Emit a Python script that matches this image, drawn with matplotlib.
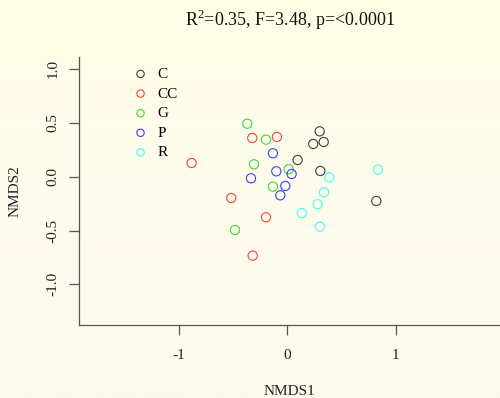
import matplotlib
matplotlib.use("Agg")
import matplotlib.pyplot as plt
import numpy as np
from matplotlib.colors import LinearSegmentedColormap

plt.rcParams['font.family'] = ['Liberation Serif', 'DejaVu Serif']
plt.rcParams['mathtext.fontset'] = 'custom'
plt.rcParams['mathtext.rm'] = 'Liberation Serif'

groups = ["C", "CC", "G", "P", "R"]
colors = ["black", "red", "#00cd00", "blue", "cyan"]

C_x = [0.298, 0.239, 0.335, 0.095, 0.304, 0.819]
C_y = [0.421, 0.304, 0.322, 0.155, 0.053, -0.226]
CC_x = [-0.880, -0.322, -0.095, -0.515, -0.196, -0.318]
CC_y = [0.127, 0.359, 0.369, -0.198, -0.377, -0.733]
G_x = [-0.368, -0.196, -0.306, 0.013, -0.132, -0.481]
G_y = [0.492, 0.344, 0.115, 0.069, -0.093, -0.495]
P_x = [-0.132, -0.101, 0.040, -0.334, -0.018, -0.064]
P_y = [0.217, 0.050, 0.025, -0.015, -0.086, -0.173]
R_x = [0.834, 0.386, 0.338, 0.280, 0.135, 0.301]
R_y = [0.065, -0.006, -0.145, -0.256, -0.337, -0.464]

xs = [C_x, CC_x, G_x, P_x, R_x]
ys = [C_y, CC_y, G_y, P_y, R_y]

title = r"R$^{\mathrm{2}}$=0.35, F=3.48, p=<0.0001"
xticks = [-1, 0, 1]
yticks = [-1.0, -0.5, 0.0, 0.5, 1.0]

bg = "#FDFBEC"
fig = plt.figure(figsize=(5, 3.98), dpi=100, facecolor=bg)

# vertical background gradient
bgax = fig.add_axes([0, 0, 1, 1], zorder=-10)
cmap = LinearSegmentedColormap.from_list("bg", ["#FCF9EF", "#FFFEE8"])
bgax.imshow(np.linspace(0, 1, 256).reshape(-1, 1), cmap=cmap, aspect='auto',
            origin='lower', extent=[0, 1, 0, 1])
bgax.axis('off')

ax = fig.add_axes([79/500, 1-325/398, 1-79/500, (325-57)/398])
ax.set_facecolor('none')

handles = []
for g, c, x, y in zip(groups, colors, xs, ys):
    ax.scatter(x, y, s=44, facecolors='none', edgecolors=c, linewidths=0.8, alpha=0.75)
    h = ax.scatter([], [], s=28, facecolors='none', edgecolors=c, linewidths=0.8, alpha=0.75, label=g)
    handles.append(h)

ax.set_xlim(-1.916, 1.957)
ax.set_ylim(-1.377, 1.111)
ax.set_xticks(xticks)
ax.set_xticklabels(["-1", "0", "1"])
ax.set_yticks(yticks)
ax.set_yticklabels(["-1.0", "-0.5", "0.0", "0.5", "1.0"], rotation=90, va='center')
for s in ["top", "right"]:
    ax.spines[s].set_visible(False)
for s in ["left", "bottom"]:
    ax.spines[s].set_color("#555555")
    ax.spines[s].set_linewidth(0.9)
ax.tick_params(axis='both', colors="#555555", length=7, width=0.9, labelsize=11, labelcolor="#222222")
ax.tick_params(axis='x', pad=10)
ax.tick_params(axis='y', pad=7)

ax.set_xlabel("NMDS1", fontsize=11, color="#222222", labelpad=17)
ax.set_ylabel("NMDS2", fontsize=11, color="#222222", labelpad=18)
fig.text(290/500, 1-20/398, title, fontsize=13, ha='center', va='center', color="#111111")

ax.legend(handles=handles, loc='upper left', bbox_to_anchor=(0.128, 0.962), frameon=False,
          borderpad=0, borderaxespad=0, handlelength=1.0, handletextpad=0.6,
          labelspacing=0.39, fontsize=11, scatterpoints=1)

fig.savefig("out.png", dpi=100)
